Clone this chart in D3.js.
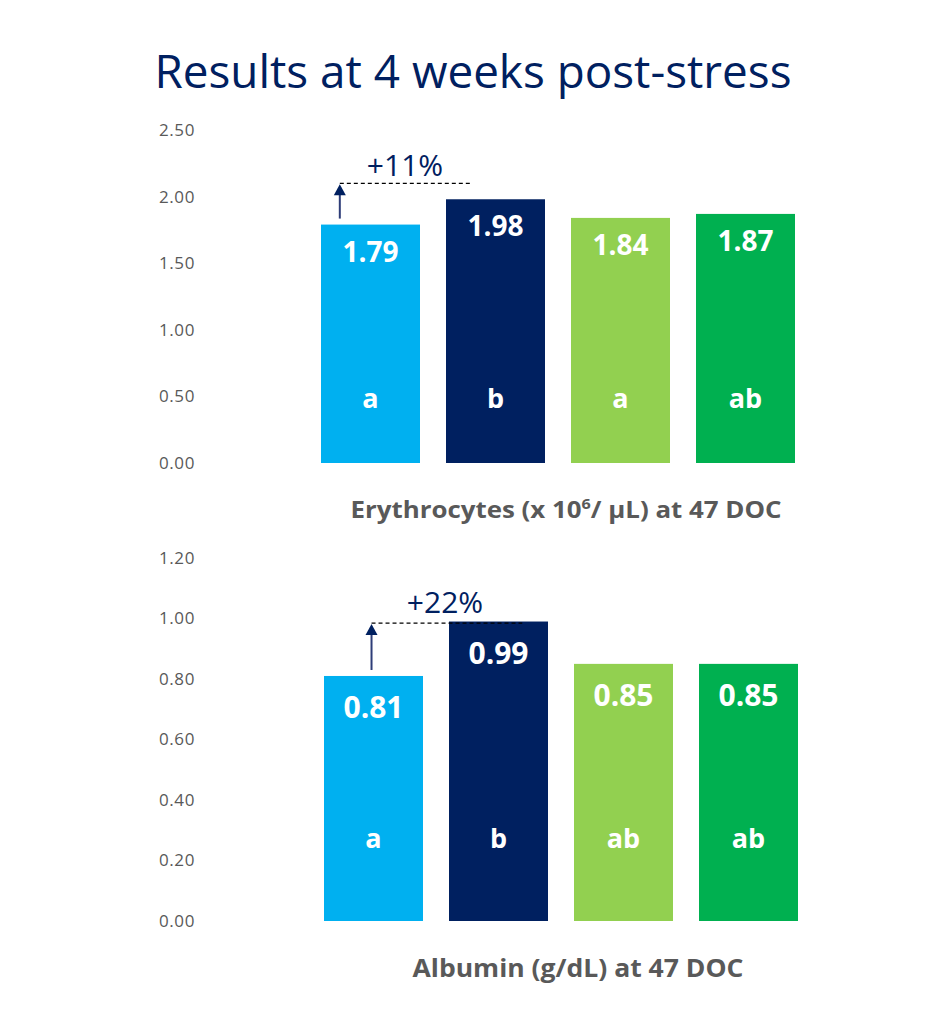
<!DOCTYPE html>
<html>
  <head>
    <title>Results at 4 weeks post-stress</title>
    <meta charset="utf-8">
    <script type="text/javascript" src="https://cdn.jsdelivr.net/npm/d3@7"></script>
    <style>
      body { margin: 0; background: #fff; }
      text { font-family: 'Open Sans', 'Noto Sans', sans-serif; }
    </style>
  </head>
  <body>

    <script type='text/javascript'>

      // data
      var groups      = ['G1', 'G2', 'G3', 'G4'];
      var barColors   = ['#00B0F0', '#002060', '#92D050', '#00B050'];
      var eryValues   = [1.79, 1.98, 1.84, 1.87];
      var eryLetters  = ['a', 'b', 'a', 'ab'];
      var eryTicks    = [0, 0.5, 1.0, 1.5, 2.0, 2.5];
      var albValues   = [0.81, 0.99, 0.85, 0.85];
      var albLetters  = ['a', 'b', 'ab', 'ab'];
      var albTicks    = [0, 0.2, 0.4, 0.6, 0.8, 1.0, 1.2];
      var pctLabels   = ['+11%', '+22%'];
      var pctLevels   = [2.10, 0.985];   // height of the dashed reference line

      var W = 938, H = 1024;
      var navy = '#002060', grey = '#595959';

      var svg = d3.select('body').append('svg')
        .attr('width', W)
        .attr('height', H);

      svg.append('text')
        .attr('x', 473)
        .attr('y', 88)
        .attr('text-anchor', 'middle')
        .attr('textLength', 637)
        .attr('lengthAdjust', 'spacingAndGlyphs')
        .style('font-size', '46px')
        .style('fill', navy)
        .text('Results at 4 weeks post-stress');

      var panels = [
        { values: eryValues, letters: eryLetters, ticks: eryTicks, max: 2.5,
          yTop: 130, yBase: 463, xRange: [308, 808], valSize: 28, letterDy: 55,
          pct: pctLabels[0], level: pctLevels[0], arrowAt: 0.19, dashEnd: 0.27,
          pctX: 405, pctDy: 7, titleY: 518 },
        { values: albValues, letters: albLetters, ticks: albTicks, max: 1.2,
          yTop: 558, yBase: 921, xRange: [311, 811], valSize: 30, letterDy: 73,
          pct: pctLabels[1], level: pctLevels[1], arrowAt: 0.48, dashEnd: 0.74,
          pctX: 445, pctDy: 10, titleY: 977 }
      ];

      panels.forEach(function(p, i) {
        var x = d3.scaleBand()
          .domain(groups)
          .range(p.xRange)
          .paddingInner(0.208)
          .paddingOuter(0.104);

        var y = d3.scaleLinear()
          .domain([0, p.max])
          .range([p.yBase, p.yTop]);

        var g = svg.append('g');

        // y axis: labels only, no line, no ticks
        var axis = g.append('g')
          .attr('transform', 'translate(195,0)')
          .call(d3.axisLeft(y).tickValues(p.ticks).tickFormat(d3.format('.2f')).tickSize(0).tickPadding(0));
        axis.select('.domain').remove();
        axis.selectAll('text')
          .style('font-family', "'Open Sans', sans-serif")
          .style('font-size', '17px')
          .style('letter-spacing', '0.6px')
          .style('fill', grey);

        var data = groups.map(function(k, j) {
          return { key: k, value: p.values[j], letter: p.letters[j], color: barColors[j] };
        });

        g.selectAll('rect.bar')
          .data(data)
          .enter()
          .append('rect')
          .attr('class', 'bar')
          .attr('x', function(d) { return x(d.key); })
          .attr('y', function(d) { return y(d.value); })
          .attr('width', x.bandwidth())
          .attr('height', function(d) { return y(0) - y(d.value); })
          .style('fill', function(d) { return d.color; });

        g.selectAll('text.val')
          .data(data)
          .enter()
          .append('text')
          .attr('class', 'val')
          .attr('x', function(d) { return x(d.key) + x.bandwidth() / 2; })
          .attr('y', function(d) { return y(d.value) + (i ? 42 : 37); })
          .attr('text-anchor', 'middle')
          .style('font-size', p.valSize + 'px')
          .style('font-weight', 'bold')
          .style('fill', '#fff')
          .text(function(d) { return d.value.toFixed(2); });

        g.selectAll('text.letter')
          .data(data)
          .enter()
          .append('text')
          .attr('class', 'letter')
          .attr('x', function(d) { return x(d.key) + x.bandwidth() / 2; })
          .attr('y', y(0) - p.letterDy)
          .attr('text-anchor', 'middle')
          .style('font-size', '27px')
          .style('font-weight', 'bold')
          .style('fill', '#fff')
          .text(function(d) { return d.letter; });

        // increase annotation: arrow from first bar up to the dashed level
        var ax = x(groups[0]) + x.bandwidth() * p.arrowAt;
        var ay = y(p.level);
        g.append('line')
          .attr('x1', ax).attr('x2', x(groups[1]) + x.bandwidth() * p.dashEnd)
          .attr('y1', ay).attr('y2', ay)
          .style('stroke', '#000')
          .style('stroke-width', 1.2)
          .style('stroke-dasharray', '4,3');
        g.append('line')
          .attr('x1', ax).attr('x2', ax)
          .attr('y1', y(p.values[0]) - 6).attr('y2', ay + 10)
          .style('stroke', '#2E3D78')
          .style('stroke-width', 2);
        g.append('path')
          .attr('d', 'M' + (ax - 6) + ',' + (ay + 12) + 'L' + ax + ',' + (ay + 1) + 'L' + (ax + 6) + ',' + (ay + 12) + 'Z')
          .style('fill', navy);

        g.append('text')
          .attr('x', p.pctX)
          .attr('y', ay - p.pctDy)
          .attr('text-anchor', 'middle')
          .style('font-size', '30px')
          .style('fill', navy)
          .text(p.pct);
      });

      // x captions
      var cap1 = svg.append('text')
        .attr('x', 566)
        .attr('y', panels[0].titleY)
        .attr('text-anchor', 'middle')
        .attr('textLength', 431)
        .attr('lengthAdjust', 'spacingAndGlyphs')
        .style('font-size', '24px')
        .style('font-weight', 'bold')
        .style('fill', grey);
      cap1.append('tspan').text('Erythrocytes (x 10');
      cap1.append('tspan').attr('dy', -9).style('font-size', '15px').text('6');
      cap1.append('tspan').attr('dy', 9).text('/ \u03bcL) at 47 DOC');

      svg.append('text')
        .attr('x', 578)
        .attr('y', panels[1].titleY)
        .attr('text-anchor', 'middle')
        .attr('textLength', 331)
        .attr('lengthAdjust', 'spacingAndGlyphs')
        .style('font-size', '25px')
        .style('font-weight', 'bold')
        .style('fill', grey)
        .text('Albumin (g/dL) at 47 DOC');

    </script>

  </body>
</html>
